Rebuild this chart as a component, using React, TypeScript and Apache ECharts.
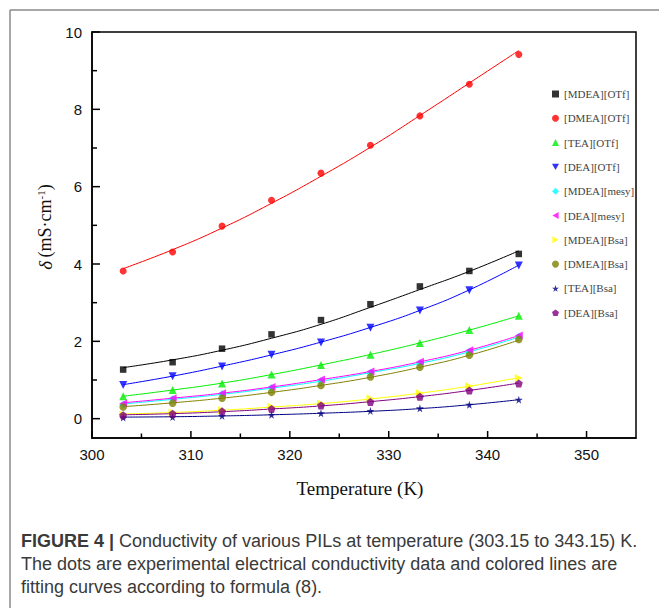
import React, { useEffect, useRef } from "react";
import * as echarts from "echarts";

const temperatures = [303.15, 308.15, 313.15, 318.15, 323.15, 328.15, 333.15, 338.15, 343.15];

const seriesNames = [
  "[MDEA][OTf]", "[DMEA][OTf]", "[TEA][OTf]", "[DEA][OTf]", "[MDEA][mesy]",
  "[DEA][mesy]", "[MDEA][Bsa]", "[DMEA][Bsa]", "[TEA][Bsa]", "[DEA][Bsa]",
];

// experimental points
const mdeaOTf = [1.27, 1.46, 1.81, 2.18, 2.55, 2.96, 3.42, 3.82, 4.26];
const dmeaOTf = [3.82, 4.31, 4.98, 5.65, 6.35, 7.07, 7.83, 8.65, 9.42];
const teaOTf = [0.58, 0.74, 0.91, 1.14, 1.39, 1.65, 1.96, 2.29, 2.66];
const deaOTf = [0.87, 1.1, 1.35, 1.65, 1.97, 2.35, 2.8, 3.32, 3.96];
const mdeaMesy = [0.36, 0.5, 0.63, 0.79, 0.97, 1.18, 1.43, 1.73, 2.12];
const deaMesy = [0.39, 0.53, 0.66, 0.82, 1.01, 1.22, 1.47, 1.77, 2.15];
const mdeaBsa = [0.11, 0.16, 0.22, 0.31, 0.39, 0.52, 0.66, 0.84, 1.05];
const dmeaBsa = [0.3, 0.4, 0.53, 0.68, 0.86, 1.08, 1.33, 1.64, 2.05];
const teaBsa = [0.03, 0.04, 0.07, 0.1, 0.14, 0.2, 0.27, 0.36, 0.49];
const deaBsa = [0.09, 0.13, 0.19, 0.25, 0.34, 0.43, 0.57, 0.73, 0.91];

// fitted curves, read at the same temperatures
const fitMdeaOTf = [1.32, 1.52, 1.77, 2.08, 2.44, 2.88, 3.34, 3.81, 4.34];
const fitDmeaOTf = [3.88, 4.37, 4.93, 5.57, 6.27, 7.02, 7.84, 8.68, 9.52];
const fitTeaOTf = [0.58, 0.74, 0.92, 1.14, 1.39, 1.66, 1.96, 2.29, 2.66];
const fitDeaOTf = [0.88, 1.1, 1.36, 1.65, 1.98, 2.36, 2.8, 3.33, 3.97];
const fitMdeaMesy = [0.38, 0.5, 0.63, 0.79, 0.97, 1.19, 1.43, 1.73, 2.11];
const fitDeaMesy = [0.41, 0.53, 0.66, 0.82, 1.01, 1.22, 1.47, 1.77, 2.15];
const fitMdeaBsa = [0.12, 0.16, 0.22, 0.3, 0.39, 0.51, 0.66, 0.84, 1.06];
const fitDmeaBsa = [0.31, 0.41, 0.53, 0.68, 0.86, 1.07, 1.33, 1.64, 2.03];
const fitTeaBsa = [0.04, 0.05, 0.07, 0.1, 0.14, 0.19, 0.26, 0.36, 0.49];
const fitDeaBsa = [0.1, 0.13, 0.18, 0.25, 0.33, 0.44, 0.57, 0.73, 0.92];

// tick positions
const xMajorTicks = [300, 310, 320, 330, 340, 350];
const xMinorTicks = [305, 315, 325, 335, 345];
const yMajorTicks = [0, 2, 4, 6, 8, 10];
const yMinorTicks = [1, 3, 5, 7, 9];

const pointSets = [mdeaOTf, dmeaOTf, teaOTf, deaOTf, mdeaMesy, deaMesy, mdeaBsa, dmeaBsa, teaBsa, deaBsa];
const fitSets = [fitMdeaOTf, fitDmeaOTf, fitTeaOTf, fitDeaOTf, fitMdeaMesy, fitDeaMesy, fitMdeaBsa, fitDmeaBsa, fitTeaBsa, fitDeaBsa];

const colors = ["#000000", "#ff0000", "#00ee00", "#0000ff", "#00ffff", "#ff00ff", "#ffff00", "#808000", "#000080", "#800080"];
const symbols = [
  "rect",
  "circle",
  "triangle",
  "path://M0,0 L10,0 L5,9 Z",
  "diamond",
  "path://M0,5 L9,0 L9,10 Z",
  "path://M0,0 L9,5 L0,10 Z",
  "circle",
  "path://M50,0 L61,35 L98,35 L68,57 L79,91 L50,70 L21,91 L32,57 L2,35 L39,35 Z",
  "path://M50,0 L98,35 L79,91 L21,91 L2,35 Z",
];
const symbolSizes = [6.5, 7, 8, 8, 8, 8, 8, 7.5, 8, 8];

const xRange = { min: 300, max: 355, major: 10 };
const yRange = { min: -0.5, max: 10, major: 2 };

export default function App() {
  const ref = useRef<HTMLDivElement>(null);
  useEffect(() => {
    if (!ref.current) return;
    const chart = echarts.init(ref.current, undefined, { renderer: "svg" });
    const fitSeries = fitSets.map((fit, i) => ({
      name: "fit " + seriesNames[i],
      type: "line",
      data: temperatures.map((t, j) => [t, fit[j]]),
      smooth: true,
      symbol: "none",
      lineStyle: { color: colors[i], width: 1 },
      z: 2,
    }));
    const pointSeries = pointSets.map((pts, i) => ({
      name: seriesNames[i],
      type: "scatter",
      data: temperatures.map((t, j) => [t, pts[j]]),
      symbol: symbols[i],
      symbolSize: symbolSizes[i],
      itemStyle: { color: colors[i] },
      z: 3,
    }));
    // inward tick marks drawn through the axis scales
    const xTickData = [
      ...xMajorTicks.map((v) => [v, 7]),
      ...xMinorTicks.map((v) => [v, 4.5]),
    ];
    const yTickData = [
      ...yMajorTicks.map((v) => [v, 8]),
      ...yMinorTicks.map((v) => [v, 5]),
    ];
    const tickSeries = [
      {
        name: "x ticks",
        type: "custom",
        silent: true,
        clip: false,
        z: 4,
        data: xTickData,
        renderItem: (params: any, api: any) => {
          const p = api.coord([api.value(0), yRange.min]);
          const len = api.value(1);
          return {
            type: "line",
            shape: { x1: p[0], y1: p[1], x2: p[0], y2: p[1] - len },
            style: { stroke: "#000", lineWidth: 1.5 },
          };
        },
      },
      {
        name: "y ticks",
        type: "custom",
        silent: true,
        clip: false,
        z: 4,
        data: yTickData,
        renderItem: (params: any, api: any) => {
          const p = api.coord([xRange.min, api.value(0)]);
          const len = api.value(1);
          return {
            type: "line",
            shape: { x1: p[0], y1: p[1], x2: p[0] + len, y2: p[1] },
            style: { stroke: "#000", lineWidth: 1.5 },
          };
        },
      },
    ];
    const labelStyle = { fontFamily: "Liberation Sans", fontSize: 15, color: "#111" };
    const frameStyle = { stroke: "#8a8a8a", lineWidth: 1.5 };
    chart.setOption({
      animation: false,
      grid: { left: 92, top: 32, right: 23, bottom: 170, show: true, borderColor: "#000", borderWidth: 1.5 },
      legend: {
        data: seriesNames,
        orient: "vertical",
        left: 547,
        top: 83,
        itemWidth: 7,
        itemHeight: 7,
        itemGap: 12.3,
        textStyle: { fontFamily: "Liberation Serif", fontSize: 11, color: "#444", lineHeight: 12 },
      },
      xAxis: {
        type: "value",
        min: xRange.min,
        max: xRange.max,
        interval: xRange.major,
        axisLine: { show: true, onZero: false, lineStyle: { color: "#000", width: 1.5 } },
        axisTick: { show: false },
        minorTick: { show: false },
        axisLabel: {
          ...labelStyle,
          margin: 9,
          formatter: (v: number) => (v % xRange.major === 0 ? String(v) : ""),
        },
        splitLine: { show: false },
      },
      yAxis: {
        type: "value",
        min: yRange.min,
        max: yRange.max,
        minInterval: yRange.major,
        maxInterval: yRange.major,
        axisLine: { show: true, onZero: false, lineStyle: { color: "#000", width: 1.5 } },
        axisTick: { show: false },
        minorTick: { show: false },
        axisLabel: {
          ...labelStyle,
          margin: 10,
          formatter: (v: number) => (v < 0 ? "" : String(v)),
        },
        splitLine: { show: false },
      },
      graphic: [
        { type: "line", z: -10, silent: true, shape: { x1: 10, y1: 10, x2: 659, y2: 10 }, style: frameStyle },
        { type: "line", z: -10, silent: true, shape: { x1: 10, y1: 10, x2: 10, y2: 608 }, style: frameStyle },
        {
          type: "text",
          x: 45,
          y: 227,
          rotation: Math.PI / 2,
          style: {
            text: "{i|δ} {n|(mS·cm}{s|-1}{n|)}",
            align: "center",
            verticalAlign: "middle",
            rich: {
              i: { fontFamily: "Liberation Serif", fontSize: 19, fontStyle: "italic", fill: "#111" },
              n: { fontFamily: "Liberation Serif", fontSize: 18, fill: "#111" },
              s: { fontFamily: "Liberation Serif", fontSize: 11, fill: "#111", verticalAlign: "top" },
            },
          },
        },
        {
          type: "text",
          x: 360,
          y: 488,
          style: {
            text: "Temperature (K)",
            fontFamily: "Liberation Serif",
            fontSize: 19,
            fill: "#111",
            align: "center",
            verticalAlign: "middle",
          },
        },
        {
          type: "text",
          x: 21,
          y: 541,
          style: {
            text: "{b|FIGURE 4 |} Conductivity of various PILs at temperature (303.15 to 343.15) K.",
            fontFamily: "Liberation Sans",
            fontSize: 18,
            fill: "#3a3a3a",
            verticalAlign: "middle",
            rich: { b: { fontFamily: "Liberation Sans", fontSize: 18, fontWeight: "bold", fill: "#3a3a3a" } },
          },
        },
        {
          type: "text",
          x: 21,
          y: 564,
          style: {
            text: "The dots are experimental electrical conductivity data and colored lines are",
            fontFamily: "Liberation Sans",
            fontSize: 18,
            fill: "#3a3a3a",
            verticalAlign: "middle",
          },
        },
        {
          type: "text",
          x: 21,
          y: 587,
          style: {
            text: "fitting curves according to formula (8).",
            fontFamily: "Liberation Sans",
            fontSize: 18,
            fill: "#3a3a3a",
            verticalAlign: "middle",
          },
        },
      ],
      series: [...fitSeries, ...pointSeries, ...tickSeries],
    });
    return () => chart.dispose();
  }, []);
  return <div ref={ref} style={{ position: "fixed", left: 0, top: 0, width: 659, height: 608, background: "#fff" }} />;
}
